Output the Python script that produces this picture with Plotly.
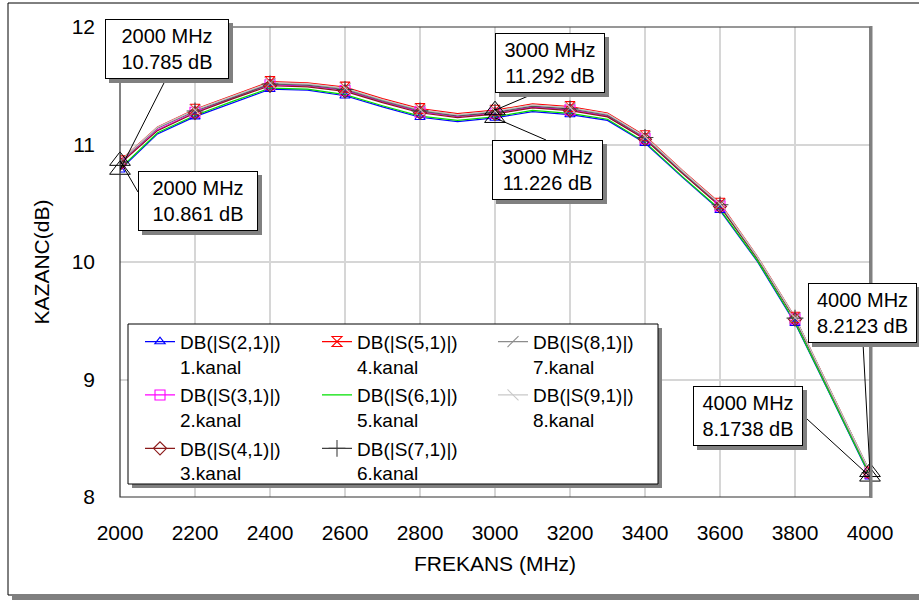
import plotly.graph_objects as go

# ---------------- data ----------------
freq = [2000, 2100, 2200, 2300, 2400, 2500, 2600, 2700, 2800, 2900, 3000,
        3100, 3200, 3300, 3400, 3500, 3600, 3700, 3800, 3900, 4000]

s21 = [10.785, 11.090, 11.237, 11.356, 11.470, 11.462, 11.415, 11.320, 11.232, 11.195, 11.226,
       11.280, 11.255, 11.205, 11.012, 10.720, 10.440, 10.003, 9.480, 8.830, 8.1738]
s31 = [10.840, 11.125, 11.275, 11.395, 11.508, 11.498, 11.460, 11.363, 11.278, 11.236, 11.266,
       11.318, 11.295, 11.241, 11.050, 10.757, 10.478, 10.030, 9.516, 8.860, 8.205]
s41 = [10.835, 11.118, 11.268, 11.388, 11.500, 11.490, 11.452, 11.356, 11.270, 11.229, 11.259,
       11.311, 11.288, 11.235, 11.044, 10.752, 10.473, 10.026, 9.512, 8.856, 8.200]
s51 = [10.861, 11.150, 11.300, 11.420, 11.535, 11.525, 11.488, 11.390, 11.305, 11.262, 11.292,
       11.345, 11.322, 11.268, 11.075, 10.780, 10.500, 10.045, 9.530, 8.870, 8.2123]
s61 = [10.795, 11.100, 11.247, 11.367, 11.480, 11.472, 11.425, 11.330, 11.242, 11.205, 11.236,
       11.290, 11.265, 11.215, 11.020, 10.727, 10.447, 10.010, 9.487, 8.836, 8.180]
s71 = [10.852, 11.140, 11.285, 11.402, 11.515, 11.505, 11.468, 11.371, 11.286, 11.244, 11.274,
       11.327, 11.304, 11.250, 11.060, 10.766, 10.487, 10.036, 9.522, 8.864, 8.208]
s81 = [10.855, 11.143, 11.290, 11.408, 11.520, 11.511, 11.474, 11.376, 11.291, 11.249, 11.279,
       11.332, 11.309, 11.255, 11.064, 10.770, 10.491, 10.039, 9.525, 8.866, 8.209]
s91 = [10.858, 11.147, 11.295, 11.414, 11.527, 11.518, 11.481, 11.383, 11.298, 11.255, 11.285,
       11.338, 11.315, 11.261, 11.069, 10.775, 10.495, 10.042, 9.527, 8.868, 8.211]

series_names = ["DB(|S(2,1)|)", "DB(|S(3,1)|)", "DB(|S(4,1)|)", "DB(|S(5,1)|)",
                "DB(|S(6,1)|)", "DB(|S(7,1)|)", "DB(|S(8,1)|)", "DB(|S(9,1)|)"]
channel_labels = ["1.kanal", "2.kanal", "3.kanal", "4.kanal",
                  "5.kanal", "6.kanal", "7.kanal", "8.kanal"]

marker_freq = [2000, 2000, 3000, 3000, 4000, 4000]
marker_db = [10.785, 10.861, 11.292, 11.226, 8.2123, 8.1738]

x_ticks = [2000, 2200, 2400, 2600, 2800, 3000, 3200, 3400, 3600, 3800, 4000]
y_ticks = [8, 9, 10, 11, 12]

x_title = "FREKANS (MHz)"
y_title = "KAZANC(dB)"

# ---------------- styles ----------------
FONT = "Liberation Sans, Arial, sans-serif"
series_values = [s21, s31, s41, s51, s61, s71, s81, s91]
colors = ["#0000FF", "#FF00FF", "#8B1A1A", "#FF0000", "#00E000", "#404040", "#8C8C8C", "#C8C8C8"]
symbols = ["triangle-up-open", "square-open", "diamond-open", "hourglass-open",
           None, "cross-thin-open", "line-ne-open", "line-nw-open"]
msizes = [9, 10, 10, 10, 0, 12, 11, 11]
legend_ids = ["legend", "legend", "legend", "legend2", "legend2", "legend2", "legend3", "legend3"]

# pixel geometry of the plot area
L, R, T, B = 120, 870, 27, 497
W, H = 919, 600
PW, PH = R - L, B - T


def pxx(px):
    return (px - L) / PW


def pxy(py):
    return (B - py) / PH


def data_x(px):
    return x_ticks[0] + (px - L) * (x_ticks[-1] - x_ticks[0]) / PW


def data_y(py):
    return y_ticks[-1] - (py - T) * (y_ticks[-1] - y_ticks[0]) / PH


fig = go.Figure()

# lines
for vals, col, nm in zip(series_values, colors, series_names):
    fig.add_trace(go.Scatter(x=freq, y=vals, mode="lines", line=dict(color=col, width=1.2),
                             showlegend=False, hoverinfo="skip", name=nm))

# markers (every 200 MHz)
for vals, col, sym, ms in zip(series_values, colors, symbols, msizes):
    if sym is None:
        continue
    fig.add_trace(go.Scatter(x=freq[::2], y=vals[::2], mode="markers",
                             marker=dict(symbol=sym, size=ms, color=col, line=dict(width=1.1, color=col)),
                             showlegend=False, hoverinfo="skip"))

# marker-readout triangles
fig.add_trace(go.Scatter(x=marker_freq, y=marker_db, mode="markers",
                         marker=dict(symbol="triangle-up-open", size=18, color="black",
                                     line=dict(width=1, color="black")),
                         showlegend=False, hoverinfo="skip", cliponaxis=False))

# legend entries
for i, (nm, ch, col, sym, ms, lg) in enumerate(zip(series_names, channel_labels, colors, symbols, msizes, legend_ids)):
    kw = dict(x=[None], y=[None], name=nm + "<br>" + ch, legend=lg, legendgroup="g%d" % i,
              line=dict(color=col, width=1.2), showlegend=True)
    if sym is None:
        kw["mode"] = "lines"
    else:
        kw["mode"] = "lines+markers"
        kw["marker"] = dict(symbol=sym, size=ms, color=col, line=dict(width=1.1, color=col))
    fig.add_trace(go.Scatter(**kw))

shapes = []
# outer frame + shadow
shapes.append(dict(type="rect", xref="paper", yref="paper", layer="below",
                   x0=pxx(8), x1=pxx(935), y0=pxy(595), y1=pxy(3),
                   line=dict(color="black", width=1), fillcolor="rgba(0,0,0,0)"))
shapes.append(dict(type="rect", xref="paper", yref="paper", layer="below",
                   x0=pxx(12), x1=pxx(935), y0=pxy(600), y1=pxy(596),
                   line=dict(width=0), fillcolor="#808080"))
# plot frame
shapes.append(dict(type="rect", xref="paper", yref="paper", layer="above",
                   x0=0, x1=1, y0=0, y1=1, line=dict(color="#303030", width=1.2)))
shapes.append(dict(type="line", xref="paper", yref="paper", layer="above",
                   x0=pxx(R + 1), x1=pxx(R + 1), y0=pxy(B + 1), y1=pxy(T - 1),
                   line=dict(color="#808080", width=3)))
# legend box + shadow
lx0, ly0, lx1, ly1 = 128, 324, 658, 484
shapes.append(dict(type="rect", xref="paper", yref="paper", layer="above",
                   x0=pxx(lx0 + 4), x1=pxx(lx1 + 4), y0=pxy(ly1 + 4), y1=pxy(ly0 + 4),
                   line=dict(width=0), fillcolor="#808080"))
shapes.append(dict(type="rect", xref="paper", yref="paper", layer="above",
                   x0=pxx(lx0), x1=pxx(lx1), y0=pxy(ly1), y1=pxy(ly0),
                   line=dict(color="black", width=1), fillcolor="white"))

# readout boxes (pixel left, top, width, height) and leader-line attach points
boxes = [(105, 19, 124, 60), (138, 171, 120, 60), (495, 33, 110, 60),
         (492, 140, 111, 60), (808, 283, 109, 60), (693, 386, 110, 60)]
attach = [(166, 79), (138, 192), (540, 91), (546, 140), (863, 343), (807, 419)]

annotations = []
for (bx, by, bw_, bh_), (ax, ay), f, v in zip(boxes, attach, marker_freq, marker_db):
    shapes.append(dict(type="line", xref="x", yref="y", layer="above",
                       x0=f, y0=v, x1=data_x(ax), y1=data_y(ay),
                       line=dict(color="black", width=1)))
    shapes.append(dict(type="rect", xref="paper", yref="paper", layer="above",
                       x0=pxx(bx + 4), x1=pxx(bx + bw_ + 4), y0=pxy(by + bh_ + 4), y1=pxy(by + 4),
                       line=dict(width=0), fillcolor="#808080"))
    annotations.append(dict(xref="paper", yref="paper", x=pxx(bx), y=pxy(by),
                            xanchor="left", yanchor="top", showarrow=False,
                            text="%s MHz<br>%s dB" % (f, v), align="center",
                            width=bw_ - 8, height=bh_ - 8, borderpad=3, borderwidth=1,
                            bordercolor="black", bgcolor="white",
                            font=dict(family=FONT, size=20, color="black")))

leg_common = dict(yanchor="top", xanchor="left", y=pxy(322.7), bgcolor="rgba(0,0,0,0)",
                  borderwidth=0, font=dict(family=FONT, size=19, color="black"),
                  valign="top", traceorder="grouped", tracegroupgap=1, orientation="v")

axis_common = dict(showgrid=True, gridcolor="#d6d6d6", gridwidth=2, zeroline=False,
                   showline=False, ticks="", tickfont=dict(family=FONT, size=21, color="black"))

fig.update_layout(
    width=W, height=H,
    margin=dict(l=L, r=W - R, t=T, b=H - B, pad=0),
    paper_bgcolor="white", plot_bgcolor="white",
    font=dict(family=FONT, color="black"),
    xaxis=dict(range=[x_ticks[0], x_ticks[-1]], tickvals=x_ticks, ticklabelstandoff=21,
               title=dict(text=x_title, font=dict(family=FONT, size=21, color="black"), standoff=13),
               **axis_common),
    yaxis=dict(range=[y_ticks[0], y_ticks[-1]], tickvals=y_ticks, ticklabelstandoff=24,
               title=dict(text=y_title, font=dict(family=FONT, size=21, color="black"), standoff=16),
               **axis_common),
    legend=dict(x=pxx(140), **leg_common),
    legend2=dict(x=pxx(317), **leg_common),
    legend3=dict(x=pxx(493), **leg_common),
    shapes=shapes,
    annotations=annotations,
)

fig.write_html("out.html")
